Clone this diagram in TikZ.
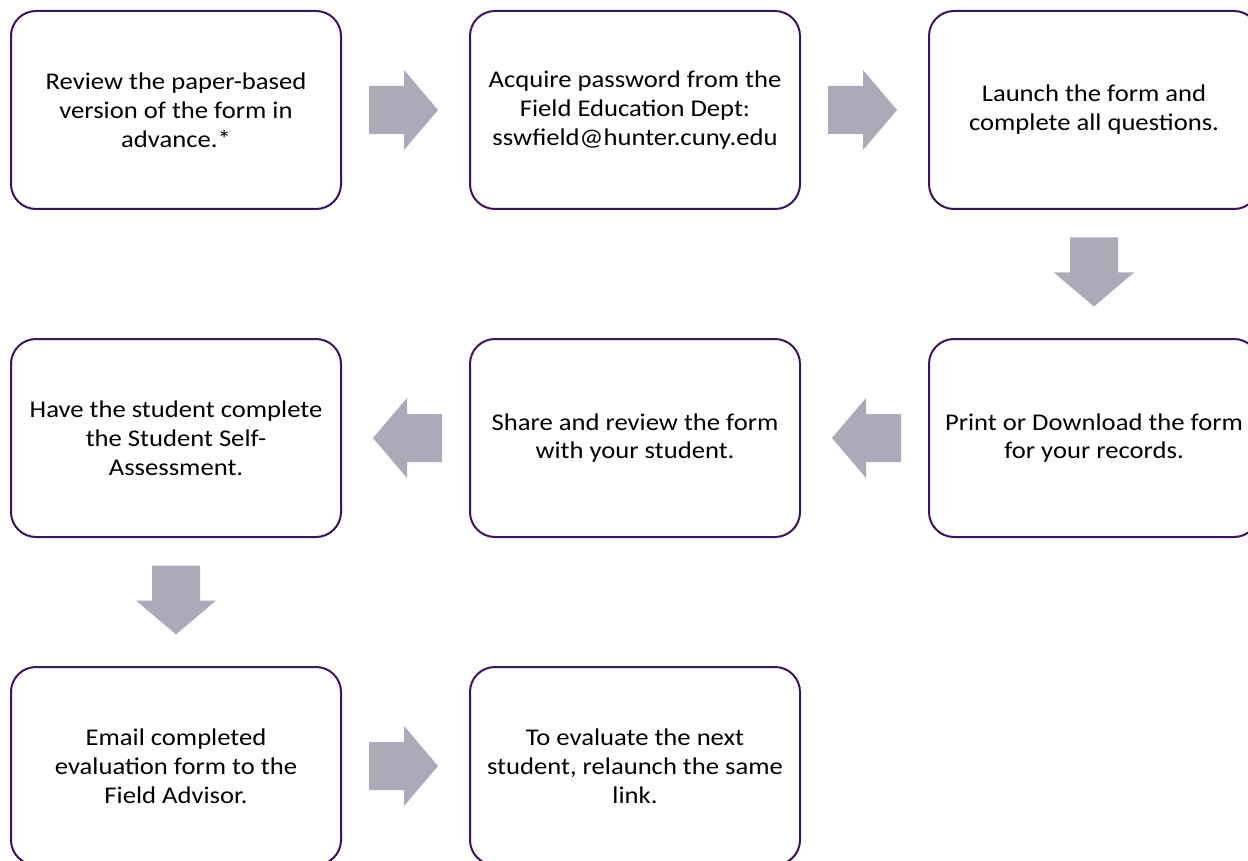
\documentclass[tikz,border=0pt]{standalone}
\usepackage{fontspec}
\setmainfont{Carlito}[FakeStretch=1.11]
\usetikzlibrary{calc}
\definecolor{boxline}{RGB}{58,20,92}
\definecolor{arrowfill}{RGB}{172,169,184}
\tikzset{
  stepbox/.style={draw=boxline, line width=2pt, fill=white, rounded corners=25pt,
    minimum width=330pt, minimum height=198pt, align=center, inner sep=0pt,
    font=\fontsize{24}{28.8}\selectfont, text=black},
  blockarrow/.style={fill=arrowfill, draw=none}
}
\newcommand{\blockarr}[2]{%
  \fill[blockarrow, shift={(#1)}, rotate=#2]
    (-34.5,-24) -- (0.5,-24) -- (0.5,-40) -- (34.5,0) -- (0.5,40) -- (0.5,24) -- (-34.5,24) -- cycle;}
\begin{document}
\begin{tikzpicture}[x=1pt,y=1pt]
\useasboundingbox (0,0) rectangle (1248,-861);
\fill[white] (0,0) rectangle (1248,-861);
\node[stepbox] (b1) at (176,-110) {Review the paper-based\\version of the form in\\advance.*};
\node[stepbox] (b2) at (635,-110) {Acquire password from the\\Field Education Dept:\\sswfield@hunter.cuny.edu};
\node[stepbox] (b3) at (1094,-110) {Launch the form and\\complete all questions.};
\node[stepbox] (b4) at (1094,-438) {Print or Download the form\\for your records.};
\node[stepbox] (b5) at (635,-438) {Share and review the form\\with your student.};
\node[stepbox] (b6) at (176,-438) {Have the student complete\\the Student Self-\\Assessment.};
\node[stepbox] (b7) at (176,-766) {Email completed\\evaluation form to the\\Field Advisor.};
\node[stepbox] (b8) at (635,-766) {To evaluate the next\\student, relaunch the same\\link.};
\coordinate (a1) at ($(b1.east)!0.5!(b2.west)+(-2,0)$);
\coordinate (a2) at ($(b2.east)!0.5!(b3.west)+(-2,0)$);
\coordinate (a3) at ($(b3.south)!0.5!(b4.north)+(0,2)$);
\coordinate (a4) at ($(b4.west)!0.5!(b5.east)+(2,0)$);
\coordinate (a5) at ($(b5.west)!0.5!(b6.east)+(2,0)$);
\coordinate (a6) at ($(b6.south)!0.5!(b7.north)+(0,2)$);
\coordinate (a7) at ($(b7.east)!0.5!(b8.west)+(-2,0)$);
\blockarr{a1}{0}
\blockarr{a2}{0}
\blockarr{a3}{-90}
\blockarr{a4}{180}
\blockarr{a5}{180}
\blockarr{a6}{-90}
\blockarr{a7}{0}
\end{tikzpicture}
\end{document}
